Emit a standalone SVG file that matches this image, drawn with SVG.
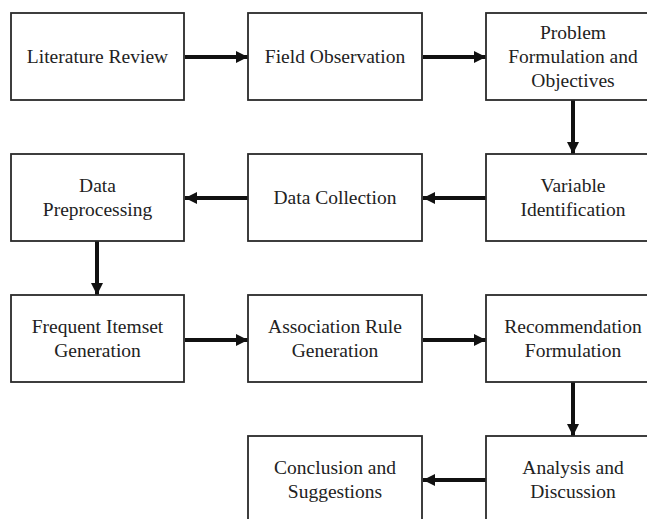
<svg xmlns="http://www.w3.org/2000/svg" width="647" height="519" viewBox="0 0 647 519">
<defs>
<style>
.box{fill:#fff;stroke:#2a2a2a;stroke-width:1.8}
.t{font-family:'Liberation Serif','DejaVu Serif',serif;font-size:19.5px;fill:#222;text-anchor:middle}
.c{stroke:#111;stroke-width:4;fill:none}
</style>
<marker id="ah" markerWidth="12" markerHeight="12" refX="12" refY="6" orient="auto" markerUnits="userSpaceOnUse">
<path d="M0,0 L12,6 L0,12 Z" fill="#111"/>
</marker>
</defs>
<rect width="647" height="519" fill="#fff"/>
<g id="connectors">
<line class="c" x1="185" y1="57" x2="248" y2="57" marker-end="url(#ah)"/>
<line class="c" x1="423" y1="57" x2="486" y2="57" marker-end="url(#ah)"/>
<line class="c" x1="573" y1="100" x2="573" y2="154" marker-end="url(#ah)"/>
<line class="c" x1="486" y1="198" x2="423" y2="198" marker-end="url(#ah)"/>
<line class="c" x1="248" y1="198" x2="185" y2="198" marker-end="url(#ah)"/>
<line class="c" x1="97" y1="241" x2="97" y2="295" marker-end="url(#ah)"/>
<line class="c" x1="185" y1="340" x2="248" y2="340" marker-end="url(#ah)"/>
<line class="c" x1="423" y1="340" x2="486" y2="340" marker-end="url(#ah)"/>
<line class="c" x1="573" y1="382" x2="573" y2="436" marker-end="url(#ah)"/>
<line class="c" x1="486" y1="480" x2="423" y2="480" marker-end="url(#ah)"/>
</g>
<g id="literature-review"><rect class="box" x="11" y="13" width="173" height="87"/><text class="t" x="97.5" y="63">Literature Review</text></g>
<g id="field-observation"><rect class="box" x="248" y="13" width="174" height="87"/><text class="t" x="335" y="63">Field Observation</text></g>
<g id="problem-formulation"><rect class="box" x="486" y="13" width="174" height="87"/><text class="t" x="573" y="39">Problem</text><text class="t" x="573" y="63">Formulation and</text><text class="t" x="573" y="87">Objectives</text></g>
<g id="data-preprocessing"><rect class="box" x="11" y="154" width="173" height="87"/><text class="t" x="97.5" y="192">Data</text><text class="t" x="97.5" y="216">Preprocessing</text></g>
<g id="data-collection"><rect class="box" x="248" y="154" width="174" height="87"/><text class="t" x="335" y="204">Data Collection</text></g>
<g id="variable-identification"><rect class="box" x="486" y="154" width="174" height="87"/><text class="t" x="573" y="192">Variable</text><text class="t" x="573" y="216">Identification</text></g>
<g id="frequent-itemset"><rect class="box" x="11" y="295" width="173" height="87"/><text class="t" x="97.5" y="333">Frequent Itemset</text><text class="t" x="97.5" y="357">Generation</text></g>
<g id="association-rule"><rect class="box" x="248" y="295" width="174" height="87"/><text class="t" x="335" y="333">Association Rule</text><text class="t" x="335" y="357">Generation</text></g>
<g id="recommendation"><rect class="box" x="486" y="295" width="174" height="87"/><text class="t" x="573" y="333">Recommendation</text><text class="t" x="573" y="357">Formulation</text></g>
<g id="conclusion"><rect class="box" x="248" y="436" width="174" height="100"/><text class="t" x="335" y="474">Conclusion and</text><text class="t" x="335" y="498">Suggestions</text></g>
<g id="analysis"><rect class="box" x="486" y="436" width="174" height="100"/><text class="t" x="573" y="474">Analysis and</text><text class="t" x="573" y="498">Discussion</text></g>
</svg>
